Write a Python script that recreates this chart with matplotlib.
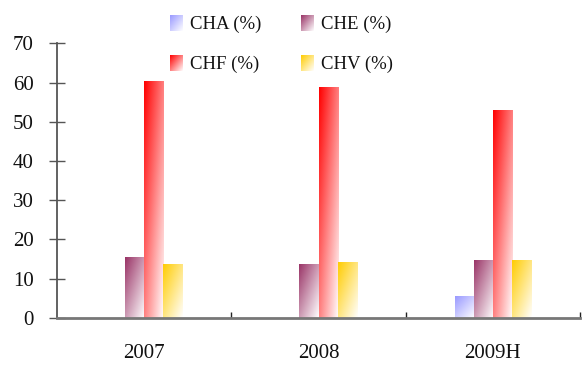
import numpy as np
import matplotlib.pyplot as plt
from matplotlib.colors import to_rgb

plt.rcParams['font.family'] = ['Liberation Serif', 'DejaVu Serif']

# 데이터
years = ['2007', '2008', '2009H']
series = ['CHA (%)', 'CHE (%)', 'CHF (%)', 'CHV (%)']
cha = [0.0, 0.0, 5.6]
che = [15.4, 13.8, 14.8]
chf = [60.3, 58.8, 53.1]
chv = [13.8, 14.3, 14.8]
colors = ['#9999ff', '#993366', '#ff0000', '#ffcc00']
yticks = [0, 10, 20, 30, 40, 50, 60, 70]


def gradient(color, n=64):
    # 왼쪽 위는 원색, 오른쪽 아래로 갈수록 흰색
    u = np.linspace(0, 1, n)
    uu, vv = np.meshgrid(u, u)
    t = (uu + vv) / 2
    c = np.array(to_rgb(color))
    img = c[None, None, :] * (1 - t[..., None]) + t[..., None]
    return img


W, H = 582, 365
fig = plt.figure(figsize=(W / 100, H / 100), dpi=100)
ax = fig.add_axes([57 / W, (H - 317.7) / H, (580 - 57) / W, (317.7 - 43.3) / H])

x = np.arange(len(years))
w = 0.109
values = [cha, che, chf, chv]
for i, (vals, col) in enumerate(zip(values, colors)):
    bars = ax.bar(x + (i - 1.5) * w, vals, w, color='none', linewidth=0)
    img = gradient(col)
    for b in bars:
        if b.get_height() <= 0:
            continue
        x0, y0 = b.get_x(), b.get_y()
        im = ax.imshow(img, extent=[x0, x0 + b.get_width(), y0, y0 + b.get_height()],
                       origin='upper', aspect='auto', interpolation='bilinear', zorder=2)
        im.set_clip_path(b)

ax.set_xlim(-0.5, 2.5)
ax.set_ylim(0, 70)
ax.set_yticks(yticks)
ax.set_xticks(x)
ax.set_xticklabels(years)
ax.set_xticks([0.5, 1.5, 2.5], minor=True)

for s in ['top', 'right']:
    ax.spines[s].set_visible(False)
ax.spines['left'].set_color('#555555')
ax.spines['left'].set_linewidth(1.3)
ax.spines['bottom'].set_color('#777777')
ax.spines['bottom'].set_linewidth(2)

ax.tick_params(axis='y', direction='inout', length=11.5, width=1, color='#555555',
               pad=11, labelsize=15, labelcolor='#111111')
ax.tick_params(axis='x', which='major', length=0, pad=19, labelsize=15, labelcolor='#111111')
ax.tick_params(axis='x', which='minor', direction='in', length=4, width=1, color='#222222')

# 범례 (그라데이션 사각형 + 텍스트)
leg_pos = [(170, 15), (301, 15), (170, 55), (301, 55)]
for (px, py), name, col in zip(leg_pos, series, colors):
    lax = fig.add_axes([px / W, (H - py - 16) / H, 13 / W, 16 / H])
    lax.imshow(gradient(col), aspect='auto', interpolation='bilinear')
    lax.axis('off')
    fig.text((px + 20) / W, (H - py - 9) / H, name, fontsize=13.5, va='center', ha='left',
             color='#111111')

fig.savefig('out.png', dpi=100)
